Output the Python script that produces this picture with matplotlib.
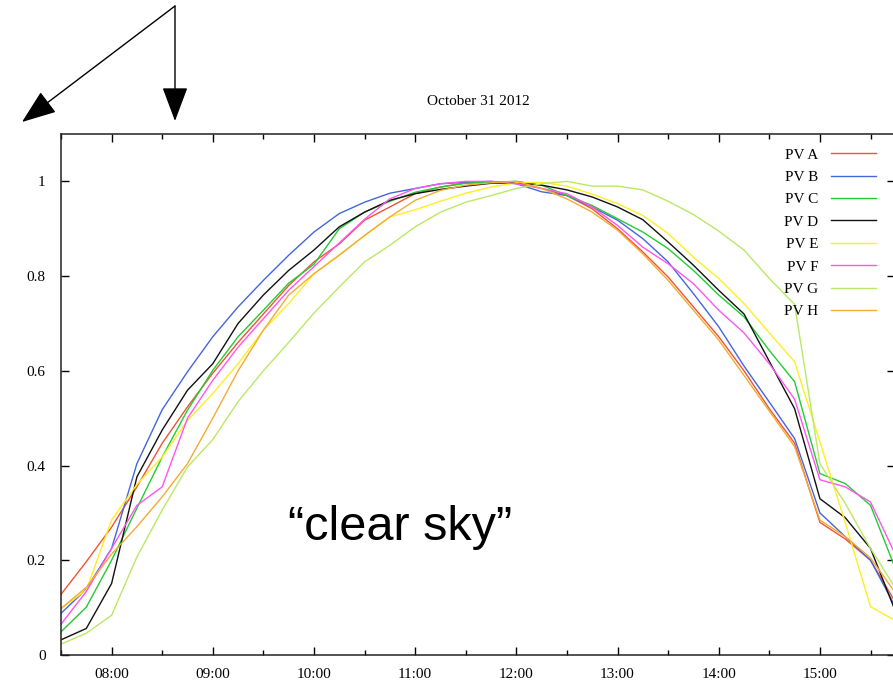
import matplotlib
matplotlib.use("Agg")
import matplotlib.pyplot as plt
from matplotlib.ticker import FixedLocator, FuncFormatter

# sample times, every 15 minutes
times = ["07:30", "07:45", "08:00", "08:15", "08:30", "08:45", "09:00", "09:15",
         "09:30", "09:45", "10:00", "10:15", "10:30", "10:45", "11:00", "11:15",
         "11:30", "11:45", "12:00", "12:15", "12:30", "12:45", "13:00", "13:15",
         "13:30", "13:45", "14:00", "14:15", "14:30", "14:45", "15:00", "15:15",
         "15:30", "15:45"]

pv_a = [0.128, 0.197, 0.270, 0.355, 0.447, 0.524, 0.595, 0.660, 0.720, 0.780,
        0.830, 0.868, 0.918, 0.946, 0.974, 0.988, 0.997, 0.999, 0.997, 0.985,
        0.970, 0.942, 0.900, 0.851, 0.798, 0.735, 0.672, 0.600, 0.520, 0.447,
        0.280, 0.245, 0.200, 0.110]
pv_b = [0.088, 0.139, 0.225, 0.404, 0.518, 0.598, 0.672, 0.735, 0.791, 0.844,
        0.893, 0.932, 0.956, 0.975, 0.985, 0.995, 0.998, 1.000, 0.995, 0.978,
        0.970, 0.946, 0.918, 0.879, 0.830, 0.763, 0.693, 0.610, 0.534, 0.457,
        0.300, 0.250, 0.200, 0.100]
pv_c = [0.049, 0.101, 0.200, 0.310, 0.418, 0.517, 0.601, 0.672, 0.728, 0.785,
        0.825, 0.900, 0.935, 0.958, 0.977, 0.988, 0.996, 0.998, 1.000, 0.992,
        0.970, 0.949, 0.921, 0.893, 0.858, 0.812, 0.760, 0.714, 0.643, 0.577,
        0.383, 0.362, 0.316, 0.180]
pv_d = [0.032, 0.056, 0.151, 0.376, 0.475, 0.559, 0.615, 0.700, 0.760, 0.812,
        0.855, 0.904, 0.935, 0.960, 0.974, 0.983, 0.990, 0.996, 0.997, 0.992,
        0.982, 0.967, 0.946, 0.919, 0.872, 0.823, 0.770, 0.720, 0.620, 0.520,
        0.330, 0.290, 0.225, 0.090]
pv_e = [0.098, 0.137, 0.285, 0.360, 0.418, 0.495, 0.552, 0.615, 0.686, 0.742,
        0.805, 0.845, 0.885, 0.925, 0.940, 0.958, 0.975, 0.988, 0.997, 0.998,
        0.990, 0.973, 0.953, 0.928, 0.890, 0.840, 0.795, 0.742, 0.680, 0.619,
        0.450, 0.280, 0.102, 0.072]
pv_f = [0.065, 0.134, 0.225, 0.316, 0.355, 0.500, 0.580, 0.650, 0.710, 0.770,
        0.820, 0.870, 0.920, 0.963, 0.985, 0.995, 1.000, 1.000, 0.995, 0.985,
        0.974, 0.946, 0.907, 0.861, 0.826, 0.784, 0.728, 0.680, 0.615, 0.540,
        0.370, 0.355, 0.323, 0.210]
pv_g = [0.023, 0.046, 0.084, 0.207, 0.306, 0.397, 0.455, 0.535, 0.600, 0.660,
        0.722, 0.777, 0.830, 0.865, 0.904, 0.935, 0.956, 0.970, 0.985, 0.995,
        1.000, 0.990, 0.990, 0.982, 0.958, 0.930, 0.895, 0.855, 0.795, 0.740,
        0.404, 0.320, 0.225, 0.140]
pv_h = [0.098, 0.143, 0.213, 0.271, 0.334, 0.404, 0.500, 0.600, 0.686, 0.760,
        0.805, 0.844, 0.886, 0.925, 0.960, 0.981, 0.992, 0.997, 1.000, 0.985,
        0.963, 0.935, 0.897, 0.847, 0.791, 0.728, 0.665, 0.590, 0.515, 0.440,
        0.285, 0.250, 0.205, 0.130]

labels = ["PV A", "PV B", "PV C", "PV D", "PV E", "PV F", "PV G", "PV H"]
colors = ["#ee5533", "#4466dd", "#22cc33", "#111111", "#ffee22", "#ff55ee",
          "#bbe866", "#f5aa33"]
series = [pv_a, pv_b, pv_c, pv_d, pv_e, pv_f, pv_g, pv_h]

hours = [int(t[:2]) + int(t[3:]) / 60 for t in times]

serif = ["Liberation Serif", "DejaVu Serif"]

fig = plt.figure(figsize=(8.93, 6.85), dpi=100)
ax = fig.add_axes([61 / 893, 30 / 685, 834 / 893, 521 / 685])

for vals, lab, col in zip(series, labels, colors):
    ax.plot(hours, vals, color=col, lw=1.0, label=lab)

ax.set_xlim(7.5, 15.742)
ax.set_ylim(0, 1.1)

ax.xaxis.set_major_locator(FixedLocator(range(8, 16)))
ax.xaxis.set_minor_locator(FixedLocator([h + 0.5 for h in range(7, 16)]))
ax.xaxis.set_major_formatter(FuncFormatter(lambda v, p: "%02d:00" % int(round(v))))
ax.set_yticks([0, 0.2, 0.4, 0.6, 0.8, 1.0])
ax.set_yticklabels(["0", "0.2", "0.4", "0.6", "0.8", "1"])

ax.tick_params(axis="both", which="both", direction="in", top=True, right=True,
               color="black", width=1.0)
ax.tick_params(axis="both", which="major", length=6)
ax.tick_params(axis="x", which="minor", length=3.5)
ax.tick_params(axis="x", pad=9)
ax.tick_params(axis="y", pad=11)
for lbl in ax.get_xticklabels() + ax.get_yticklabels():
    lbl.set_family(serif)
    lbl.set_fontsize(11)
for sp in ax.spines.values():
    sp.set_linewidth(1.1)
    sp.set_color("#222222")

ax.set_title("October 31 2012", family=serif, fontsize=11, pad=21)

leg = ax.legend(loc="upper right", bbox_to_anchor=(0.985, 0.985), frameon=False,
                markerfirst=False, prop={"family": serif, "size": 11},
                handlelength=3.0, labelspacing=0.57, handletextpad=0.8,
                borderaxespad=0.0)

ax.text(0.406, 0.221, "\u201cclear sky\u201d", transform=ax.transAxes,
        ha="center", va="baseline", fontsize=35, family="Liberation Sans")

# annotation arrows above the plot
def fig_pt(px, py):
    return (px / 893, 1 - py / 685)

arrow_style = "-|>,head_length=1.2,head_width=0.45"
for tip in [(175, 121), (22, 122)]:
    ax.annotate("", xy=fig_pt(*tip), xytext=fig_pt(175, 6),
                xycoords="figure fraction", textcoords="figure fraction",
                arrowprops=dict(arrowstyle=arrow_style, mutation_scale=18,
                                color="black", lw=1.0, shrinkA=0, shrinkB=0),
                annotation_clip=False)

fig.savefig("out.png", dpi=100)
